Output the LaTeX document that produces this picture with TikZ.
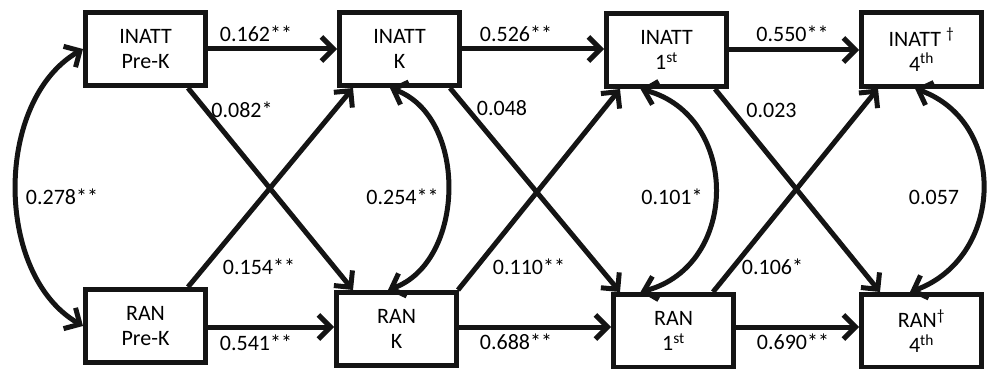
\documentclass[tikz,border=0pt]{standalone}
\usepackage{fontspec}
\setmainfont{Carlito}
\usetikzlibrary{arrows.meta}
\begin{document}
\begin{tikzpicture}[x=1pt,y=-1pt,
  box/.style={draw=black!92,line width=5pt,minimum width=120pt,minimum height=73pt,inner sep=0pt,align=center,font=\fontsize{22}{25}\selectfont},
  lbl/.style={font=\fontsize{22}{24}\selectfont,inner sep=0pt},
  conn/.style={line width=5pt,draw=black!92,-{Straight Barb[length=12pt,width=24pt,line width=5pt]}},
  cov/.style={line width=5pt,draw=black!92,{Straight Barb[length=12pt,width=24pt,line width=5pt]}-{Straight Barb[length=12pt,width=24pt,line width=5pt]}}]
\useasboundingbox (0,0) rectangle (987,369);
\node[box] (A) at (145.5,49) {INATT\\Pre-K};
\node[box] (B) at (145.5,326) {RAN\\Pre-K};
\node[box] (C) at (399.5,49) {INATT\\K};
\node[box] (D) at (396.5,329) {RAN\\K};
\node[box] (E) at (666.5,50) {INATT\\1\textsuperscript{st}};
\node[box] (F) at (673.5,331) {RAN\\1\textsuperscript{st}};
\node[box] (G) at (921.5,49.5) {INATT \textsuperscript{\dag}\\4\textsuperscript{th}};
\node[box] (H) at (921.5,331) {RAN\textsuperscript{\dag}\\4\textsuperscript{th}};
% horizontal paths
\draw[conn] (A.east) -- (A.east -| C.west);
\draw[conn] ([yshift=-1pt]B.east) -- ([yshift=-1pt]B.east -| D.west);
\draw[conn] (C.east) -- (C.east -| E.west);
\draw[conn] ([yshift=2pt]D.east) -- ([yshift=2pt]D.east -| F.west);
\draw[conn] (E.east) -- (E.east -| G.west);
\draw[conn] ([yshift=4pt]F.east) -- ([yshift=4pt]F.east -| H.west);
% cross paths
\draw[conn] ([xshift=42.5pt]A.south) -- ([xshift=-43.5pt]D.north);
\draw[conn] ([xshift=42.5pt]B.north) -- ([xshift=-46.5pt]C.south);
\draw[conn] ([xshift=50.5pt]C.south) -- ([xshift=-53.5pt]F.north);
\draw[conn] ([xshift=61.5pt]D.north) -- ([xshift=-46.5pt]E.south);
\draw[conn] ([xshift=48.5pt]E.south) -- ([xshift=-41.5pt]H.north);
\draw[conn] ([xshift=39.5pt]F.north) -- ([xshift=-43.5pt]G.south);
% covariances
\draw[cov] (A.west) to[out=210,in=150,looseness=0.95] (B.west);
\draw[cov] ([xshift=-9.5pt]C.south) to[out=-20,in=20,looseness=1.05] ([xshift=-8.5pt]D.north);
\draw[cov] ([xshift=-26pt]E.south) to[out=-15,in=15,looseness=1.3] ([xshift=-33pt]F.north);
\draw[cov] ([xshift=-6.5pt]G.south) to[out=-20,in=20,looseness=1.25] ([xshift=-11.5pt]H.north);
% labels
\node[lbl] (l1) at (256,34) {0.162**};
\node[lbl] (l2) at (256,343) {0.541**};
\node[lbl] (l3) at (242,110) {0.082*};
\node[lbl] (l4) at (259,267) {0.154**};
\node[lbl] (l5) at (62,197) {0.278**};
\node[lbl] (l6) at (516,34) {0.526**};
\node[lbl] (l7) at (516,342) {0.688**};
\node[lbl] (l8) at (502,108) {0.048};
\node[lbl] (l9) at (402.5,197) {0.254**};
\node[lbl] (l10) at (529,267) {0.110**};
\node[lbl] (l11) at (792.5,34) {0.550**};
\node[lbl] (l12) at (793,342) {0.690**};
\node[lbl] (l13) at (771.5,110) {0.023};
\node[lbl] (l14) at (672,197) {0.101*};
\node[lbl] (l15) at (772.5,267) {0.106*};
\node[lbl] (l16) at (934,197) {0.057};
\end{tikzpicture}
\end{document}
